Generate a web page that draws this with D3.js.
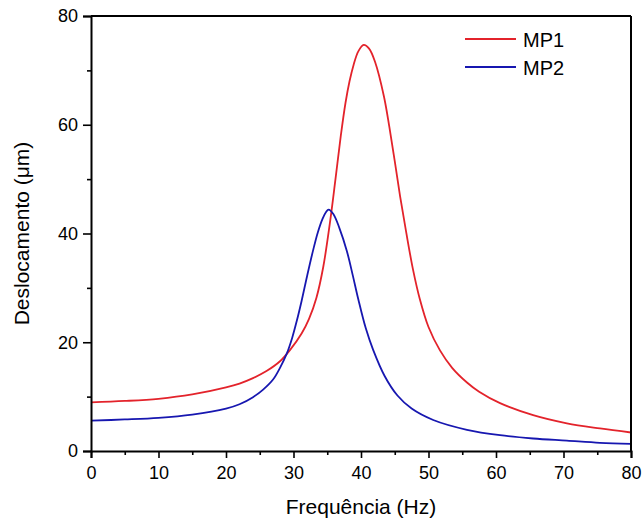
<!DOCTYPE html>
<html>
<head>
<meta charset="utf-8">
<script src="https://cdn.jsdelivr.net/npm/d3@7"></script>
<style>
  html, body { margin: 0; padding: 0; background: #fff; }
  svg { display: block; font-family: "Liberation Sans", Arial, sans-serif; }
</style>
</head>
<body>
<svg id="chart" width="643" height="524"></svg>
<script>
// ---- data ----
const seriesNames = ["MP1", "MP2"];
const mp1X = [0, 5, 10, 15, 20, 22, 24, 26, 28, 29.5, 31.2, 32.3, 33.4, 34.4, 35.4, 36.2, 37.0, 37.7, 38.3, 38.9, 39.6, 40.4, 41.2, 42.1, 43.4, 44.2, 45.0, 45.8, 46.7, 47.7, 48.7, 50, 51.7, 53.5, 55.7, 57.5, 60.6, 65.5, 70.5, 75.4, 80];
const mp1Y = [8.95, 9.2, 9.6, 10.4, 11.7, 12.4, 13.4, 14.7, 16.5, 18.6, 21.6, 24.3, 28.2, 33.8, 42.0, 49.8, 57.9, 64.0, 68.0, 71.0, 73.5, 74.7, 74.0, 71.5, 65.2, 59.6, 53.3, 46.8, 40.2, 33.4, 28.0, 22.8, 18.5, 15.3, 12.6, 10.9, 8.8, 6.6, 5.1, 4.15, 3.4];
const mp2X = [0, 5, 10, 15, 20, 22, 24, 25.5, 27, 28, 29, 29.8, 30.5, 31.2, 32.0, 32.9, 33.6, 34.3, 34.8, 35.2, 35.9, 36.8, 37.9, 38.8, 39.6, 40.7, 41.8, 43.5, 45.4, 47.5, 50.7, 55.7, 60.6, 65.5, 70.5, 75.4, 80];
const mp2Y = [5.58, 5.8, 6.1, 6.7, 7.8, 8.6, 9.9, 11.3, 13.2, 15.3, 17.9, 20.8, 24.0, 27.6, 32.1, 36.9, 40.2, 42.7, 43.9, 44.4, 43.6, 41.0, 36.8, 32.2, 27.9, 22.6, 18.6, 13.8, 10.2, 7.8, 5.7, 3.9, 2.9, 2.3, 1.9, 1.5, 1.3];
const xTicks = [0, 10, 20, 30, 40, 50, 60, 70, 80];
const yTicks = [0, 20, 40, 60, 80];
const xMinor = [5, 15, 25, 35, 45, 55, 65, 75];
const yMinor = [10, 30, 50, 70];
const xTitle = "Frequência (Hz)";
const yTitle = "Deslocamento (μm)";
const colors = ["#e3232b", "#1717b0"];

// ---- layout ----
const svg = d3.select("#chart");
const L = 91, R = 631, T = 16, B = 451;
const x = d3.scaleLinear().domain([0, 80]).range([L, R]);
const y = d3.scaleLinear().domain([0, 80]).range([B, T]);

// curves
const line = d3.line().x(d => x(d[0])).y(d => y(d[1])).curve(d3.curveCatmullRom.alpha(0.5));
const series = [
  d3.zip(mp1X, mp1Y),
  d3.zip(mp2X, mp2Y)
];
svg.append("clipPath").attr("id", "clip").append("rect")
  .attr("x", L).attr("y", T).attr("width", R - L).attr("height", B - T);
series.forEach((s, i) => {
  svg.append("path").datum(s)
    .attr("d", line)
    .attr("fill", "none")
    .attr("stroke", colors[i])
    .attr("stroke-width", 1.8)
    .attr("stroke-linejoin", "round")
    .attr("clip-path", "url(#clip)");
});

// frame (top and right)
svg.append("line").attr("x1", L).attr("x2", R).attr("y1", T).attr("y2", T)
  .attr("stroke", "#000").attr("stroke-width", 2);
svg.append("line").attr("x1", R).attr("x2", R).attr("y1", T).attr("y2", B)
  .attr("stroke", "#000").attr("stroke-width", 2);

// axes
const fs = "18px";
const xAxis = svg.append("g").attr("transform", `translate(0,${B})`)
  .call(d3.axisBottom(x).tickValues(xTicks).tickSize(7).tickPadding(8).tickFormat(d3.format("d")));
const xAxisMinor = svg.append("g").attr("transform", `translate(0,${B})`)
  .call(d3.axisBottom(x).tickValues(xMinor).tickSize(4).tickFormat(""));
const yAxis = svg.append("g").attr("transform", `translate(${L},0)`)
  .call(d3.axisLeft(y).tickValues(yTicks).tickSize(8).tickPadding(5).tickFormat(d3.format("d")));
const yAxisMinor = svg.append("g").attr("transform", `translate(${L},0)`)
  .call(d3.axisLeft(y).tickValues(yMinor).tickSize(4).tickFormat(""));

[xAxis, xAxisMinor, yAxis, yAxisMinor].forEach(g => {
  g.select(".domain").attr("stroke", "#000").attr("stroke-width", 2);
  g.selectAll(".tick line").attr("stroke", "#000").attr("stroke-width", 1.6);
  g.selectAll(".tick text").attr("fill", "#000").style("font-size", fs)
    .style("font-family", "'Liberation Sans', Arial, sans-serif");
});
xAxisMinor.select(".domain").remove();
yAxisMinor.select(".domain").remove();

// axis titles
svg.append("text").attr("x", (L + R) / 2).attr("y", 514)
  .attr("text-anchor", "middle").style("font-size", "21px").attr("fill", "#000")
  .text(xTitle);
svg.append("text")
  .attr("transform", `translate(29,${(T + B) / 2}) rotate(-90)`)
  .attr("text-anchor", "middle").style("font-size", "21px").attr("fill", "#000")
  .text(yTitle);

// legend
const legend = svg.append("g");
seriesNames.forEach((name, i) => {
  const ly = 39 + i * 28;
  legend.append("line").attr("x1", 465).attr("x2", 516).attr("y1", ly).attr("y2", ly)
    .attr("stroke", colors[i]).attr("stroke-width", 1.8);
  legend.append("text").attr("x", 523).attr("y", ly + 7.5)
    .style("font-size", "20px").attr("fill", "#000").text(name);
});
</script>
</body>
</html>
